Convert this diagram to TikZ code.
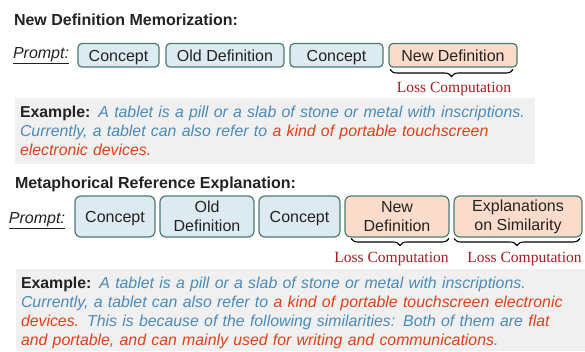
\documentclass[tikz,border=0pt]{standalone}
\usepackage{fontspec}
\setmainfont{Liberation Sans}
\newfontfamily\lossfont{Liberation Serif}
\usetikzlibrary{decorations.pathreplacing}
\definecolor{boxblue}{HTML}{DEEAF1}
\definecolor{boxorange}{HTML}{FBDCCB}
\definecolor{boxedge}{HTML}{4A7C6C}
\definecolor{txtblue}{HTML}{4A8BBA}
\definecolor{txtred}{HTML}{E0401A}
\definecolor{lossred}{HTML}{A51C1C}
\definecolor{greybg}{HTML}{F0F0F0}
\definecolor{darktxt}{HTML}{222222}
\newcommand{\bl}[1]{\textcolor{txtblue}{#1}}
\newcommand{\rd}[1]{\textcolor{txtred}{#1}}
\begin{document}
\begin{tikzpicture}[x=1pt,y=-1pt,
  every node/.style={inner sep=0pt, outer sep=0pt},
  maintxt/.style={font=\fontsize{16}{19}\selectfont, text=darktxt},
  boxbase/.style={maintxt, draw=boxedge, line width=1.2pt, anchor=north west},
  onerow/.style={boxbase, rounded corners=4pt, minimum height=23.5pt, text height=11.5pt, text depth=0pt},
  tworow/.style={boxbase, rounded corners=6pt, minimum height=41pt, align=center},
  tworowone/.style={tworow, text height=11.5pt, text depth=0pt},
  blue/.style={fill=boxblue},
  orange/.style={fill=boxorange},
  bracedeco/.style={decorate, decoration={brace, amplitude=7pt}, line width=1.1pt, black},
  losstxt/.style={font=\lossfont\fontsize{15.5}{18}\selectfont, text=lossred, anchor=base},
  titletxt/.style={maintxt, font=\fontsize{16}{19}\selectfont\bfseries, anchor=base west},
  prompttxt/.style={maintxt, anchor=base west},
  greybox/.style={fill=greybg, draw=none},
  example/.style={font=\fontsize{15.85}{19}\selectfont\itshape, text=txtblue, anchor=base west, text width=565pt, align=left}
]
\useasboundingbox (0,0) rectangle (585,351);

% ---------- Section 1 ----------
\node[titletxt] (t1) at (14,25) {New Definition Memorization:};
\node[prompttxt] (p1) at (13,58) {\underline{\textit{Prompt:}}};
\node[onerow, blue, minimum width=81pt] (a1) at (78,43.5) {Concept};
\node[onerow, blue, minimum width=118pt] (a2) at (166,43.5) {Old Definition};
\node[onerow, blue, minimum width=93pt] (a3) at (290,43.5) {Concept};
\node[onerow, orange, minimum width=128pt] (a4) at (389,43.5) {New Definition};
\coordinate (br1a) at ([xshift=-4pt,yshift=-2.5pt]a4.south east);
\coordinate (br1b) at ([xshift=1pt,yshift=-2.5pt]a4.south west);
\draw[bracedeco] (br1a) -- (br1b);
\node[losstxt] (l1) at (454,92) {Loss Computation};

\path[greybox] (15,98) rectangle (535,164);
\node[example] (e1) at (20,117) {\textcolor{darktxt}{\upshape\bfseries Example:} A tablet is a pill or a slab of stone or metal with inscriptions.\\
Currently, a tablet can also refer to \rd{a kind of portable touchscreen}\\
\rd{electronic devices.}};

% ---------- Section 2 ----------
\node[titletxt] (t2) at (15,188) {Metaphorical Reference Explanation:};
\node[prompttxt] (p2) at (9,223) {\underline{\textit{Prompt:}}};
\node[tworowone, blue, minimum width=80pt] (b1) at (75,196) {Concept};
\node[tworow, blue, minimum width=94pt] (b2) at (160,196) {Old\\Definition};
\node[tworowone, blue, minimum width=81pt] (b3) at (259,196) {Concept};
\node[tworow, orange, minimum width=104pt] (b4) at (345,196) {New\\Definition};
\node[tworow, orange, minimum width=128pt] (b5) at (454,196) {Explanations\\on Similarity};
\coordinate (br2a) at ([xshift=0pt,yshift=-1.5pt]b4.south east);
\coordinate (br2b) at ([xshift=6pt,yshift=-1.5pt]b4.south west);
\draw[bracedeco] (br2a) -- (br2b);
\coordinate (br3a) at ([xshift=-2pt,yshift=-1.5pt]b5.south east);
\coordinate (br3b) at ([xshift=0pt,yshift=-1.5pt]b5.south west);
\draw[bracedeco] (br3a) -- (br3b);
\node[losstxt] (l2) at (391.5,262) {Loss Computation};
\node[losstxt] (l3) at (524.5,262) {Loss Computation};

\path[greybox] (16,269) rectangle (585,351);
\node[example] (e2) at (21,288) {\textcolor{darktxt}{\upshape\bfseries Example:} A tablet is a pill or a slab of stone or metal with inscriptions.\\
Currently, a tablet can also refer to \rd{a kind of portable touchscreen electronic}\\
\rd{devices.} This is because of the following similarities: Both of them are \rd{flat}\\
\rd{and portable, and can mainly used for writing and communications}.};
\end{tikzpicture}
\end{document}
